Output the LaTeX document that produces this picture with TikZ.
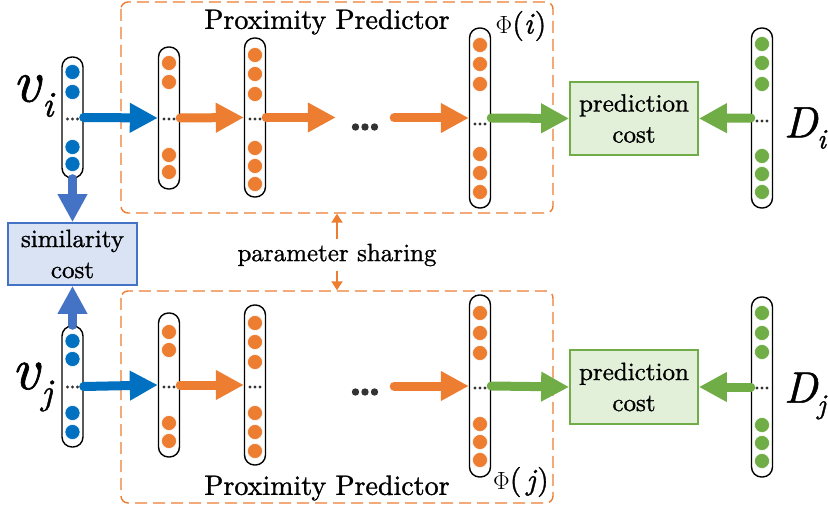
\documentclass[tikz,border=0pt]{standalone}
\usepackage{fontspec}
\setmainfont{lmroman10-regular.otf}[ItalicFont=lmroman10-italic.otf,FakeBold=1.1]
\usetikzlibrary{arrows.meta,calc}
\definecolor{cblue}{HTML}{0070C0}
\definecolor{cbluev}{HTML}{4472C4}
\definecolor{corange}{HTML}{ED7D31}
\definecolor{cgreen}{HTML}{70AD47}
\definecolor{simfill}{HTML}{DAE3F3}
\definecolor{predfill}{HTML}{E2F0D9}
\definecolor{dotgray}{HTML}{333333}
\begin{document}
\begin{tikzpicture}[x=1pt,y=-1pt,
  col/.style={draw=black,line width=1.4pt,rounded corners=10pt,minimum width=21pt,inner sep=0pt},
  fatarrow/.style={line width=9pt,line cap=round,-{Triangle[length=28pt,width=28pt]}},
  thinarrow/.style={draw=corange,line width=1.8pt,-{Triangle[length=9pt,width=11pt]}},
  dashbox/.style={draw=corange,line width=1.4pt,dash pattern=on 12pt off 6pt,rounded corners=7pt},
  costbox/.style={line width=1.8pt,align=center,inner sep=0pt,font=\fontsize{25}{31}\selectfont},
  lbl/.style={inner sep=0pt,font=\fontsize{28}{28}\selectfont},
  pdot/.style={fill=#1,draw=white,line width=0.5pt},
  bigdots/.style={inner sep=0pt,minimum width=58pt,minimum height=12pt}
]
\useasboundingbox (0,0) rectangle (828,513);

% dashed predictor boxes
\draw[dashbox] (121,2) rectangle (553,213);
\draw[dashbox] (121,291) rectangle (553,503);
\node[dashbox,draw=none,minimum width=432pt,minimum height=211pt] (topbox) at (337,107.5) {};
\node[dashbox,draw=none,minimum width=432pt,minimum height=212pt] (botbox) at (337,397) {};
\node[lbl] (ppt) at (327,22) {Proximity Predictor};
\node[lbl] (ppb) at (327,488) {Proximity Predictor};

% ---------- top row ----------
\node[col,minimum height=121pt] (vi) at (72.5,117.5) {};
\node[col,minimum height=142pt] (l1i) at (169,118) {};
\node[col,minimum height=159pt] (l2i) at (255,117.5) {};
\node[col,minimum height=180pt] (phii) at (480,118) {};
\node[col,minimum height=180pt] (Di) at (762,118) {};

\foreach \yy in {72,92,147,164} \draw[pdot=cblue] (72.5,\yy) circle (7.5pt);
\foreach \yy in {63,82,155,172} \draw[pdot=corange] (169,\yy) circle (7.5pt);
\foreach \yy in {55,74,94,148,166,184} \draw[pdot=corange] (255,\yy) circle (7.5pt);
\foreach \yy in {45,64,84,154,173,192} \draw[pdot=corange] (480,\yy) circle (7.5pt);
\foreach \yy in {44,63,84,156,174,192} \draw[pdot=cgreen] (762,\yy) circle (7.5pt);

\foreach \cx/\cy in {72.5/119,169/119,255/119,480/124,762/121}
  \foreach \dx in {-5,0,5} \fill[dotgray] (\cx+\dx,\cy) circle (1.6pt);

\node[bigdots] (dotsi) at (365,127) {};
\foreach \dx in {-9.5,0,9.5} \fill[dotgray] ($(dotsi.center)+(\dx,0)$) circle (3.7pt);

\node[costbox,draw=cgreen,fill=predfill,minimum width=128pt,minimum height=73pt] (pci) at (634,118.5) {prediction\\cost};
\node[costbox,draw=cbluev,fill=simfill,minimum width=129pt,minimum height=62pt] (sim) at (72.5,254) {similarity\\cost};

\draw[fatarrow,cblue] (vi.east) -- (l1i.west);
\draw[fatarrow,corange] (l1i.east) -- (l2i.west);
\draw[fatarrow,corange] (l2i.east) -- (l2i.east -| dotsi.west);
\draw[fatarrow,corange] (phii.west -| dotsi.east) -- (phii.west);
\draw[fatarrow,cgreen] (phii.east) -- (pci.west);
\draw[fatarrow,cgreen] (Di.west) -- (pci.east);
\draw[fatarrow,cbluev] (vi.south) -- (sim.north);

\node[lbl,font=\fontsize{30}{30}\selectfont] (phiil) at (521,26) {$\Phi$(\textit{i})};
\node[inner sep=0pt] (vil) at (33,96) {\fontsize{60}{60}\selectfont\itshape v\kern2pt\raisebox{-15pt}{\fontsize{36}{36}\selectfont i}};
\node[inner sep=0pt] (Dil) at (805,128) {\fontsize{44}{44}\selectfont\itshape D\raisebox{-11pt}{\fontsize{28}{28}\selectfont i}};

% ---------- bottom row ----------
\node[col,minimum height=121pt] (vj) at (72.5,386.5) {};
\node[col,minimum height=144pt] (l1j) at (169,385) {};
\node[col,minimum height=160pt] (l2j) at (255,385) {};
\node[col,minimum height=182pt] (phij) at (480,386) {};
\node[col,minimum height=180pt] (Dj) at (762,387) {};

\foreach \yy in {341,359,413,432} \draw[pdot=cblue] (72.5,\yy) circle (7.5pt);
\foreach \yy in {332,350,423,441} \draw[pdot=corange] (169,\yy) circle (7.5pt);
\foreach \yy in {323,342,362,413,432,451} \draw[pdot=corange] (255,\yy) circle (7.5pt);
\foreach \yy in {313,333,353,424,442,460} \draw[pdot=corange] (480,\yy) circle (7.5pt);
\foreach \yy in {313,333,352,425,443,461} \draw[pdot=cgreen] (762,\yy) circle (7.5pt);

\foreach \cx/\cy in {72.5/387,169/387,255/387,480/388,762/388}
  \foreach \dx in {-5,0,5} \fill[dotgray] (\cx+\dx,\cy) circle (1.6pt);

\node[bigdots] (dotsj) at (365,392) {};
\foreach \dx in {-9.5,0,9.5} \fill[dotgray] ($(dotsj.center)+(\dx,0)$) circle (3.7pt);

\node[costbox,draw=cgreen,fill=predfill,minimum width=128pt,minimum height=74pt] (pcj) at (634,387) {prediction\\cost};

\draw[fatarrow,cblue] (vj.east) -- (l1j.west);
\draw[fatarrow,corange] (l1j.east) -- (l2j.west);
\draw[fatarrow,corange] (phij.west -| dotsj.east) -- (phij.west);
\draw[fatarrow,cgreen] (phij.east) -- (pcj.west);
\draw[fatarrow,cgreen] (Dj.west) -- (pcj.east);
\draw[fatarrow,cbluev] (vj.north) -- (sim.south);

\node[lbl,font=\fontsize{30}{30}\selectfont] (phijl) at (521,482) {$\Phi$(\,\textit{j})};
\node[inner sep=0pt] (vjl) at (32,387) {\fontsize{60}{60}\selectfont\itshape v\kern2pt\raisebox{-15pt}{\fontsize{36}{36}\selectfont j}};
\node[inner sep=0pt] (Djl) at (805,396) {\fontsize{44}{44}\selectfont\itshape D\raisebox{-11pt}{\fontsize{28}{28}\selectfont j}};

% parameter sharing
\node[inner sep=0pt,font=\fontsize{25}{25}\selectfont] (ps) at (337,255) {parameter sharing};
\draw[thinarrow] ($(ps.north)+(0,-5)$) -- (ps.north |- topbox.south);
\draw[thinarrow] ($(ps.south)+(0,5)$) -- (ps.south |- botbox.north);
\end{tikzpicture}
\end{document}
